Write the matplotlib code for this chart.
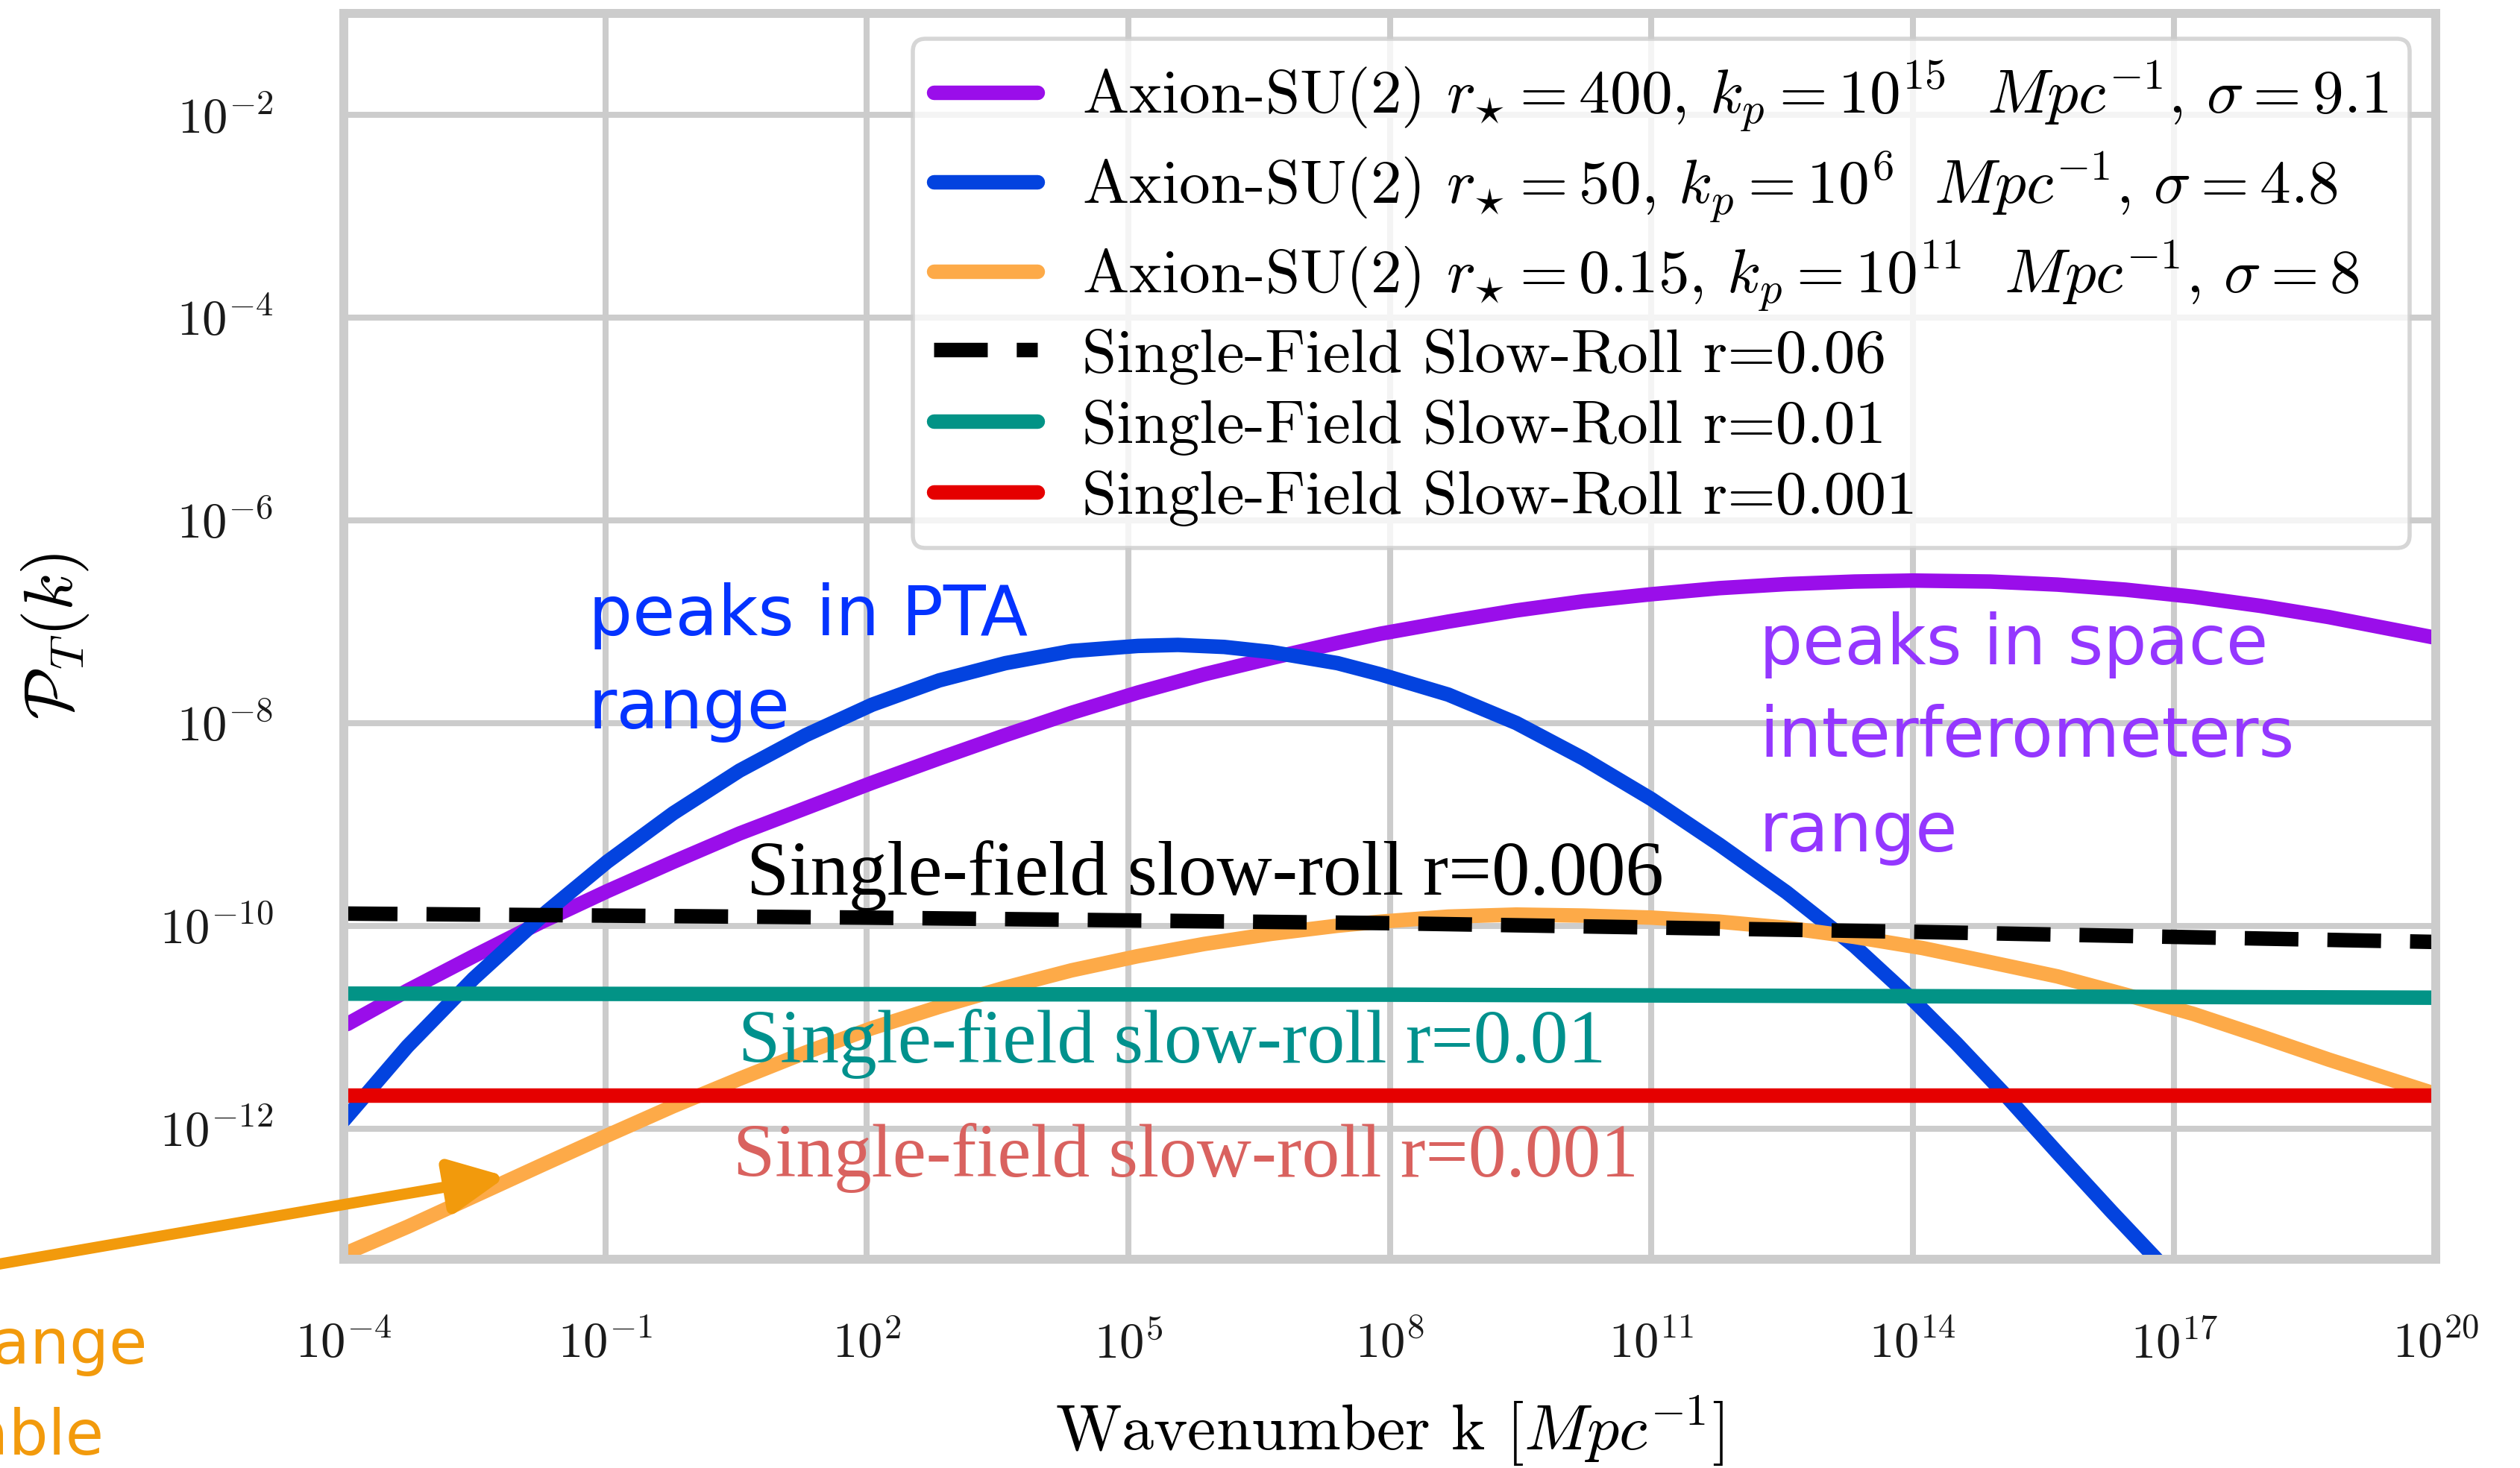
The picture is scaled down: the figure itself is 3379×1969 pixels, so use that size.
import numpy as np
import matplotlib
matplotlib.use("Agg")
import matplotlib.pyplot as plt
from matplotlib.patches import FancyArrowPatch, ArrowStyle
from matplotlib.ticker import FixedLocator, FuncFormatter, NullLocator

plt.rcParams['mathtext.fontset'] = 'cm'
plt.rcParams['font.family'] = ['cmr10', 'DejaVu Serif']
plt.rcParams['axes.unicode_minus'] = False
plt.rcParams['axes.formatter.use_mathtext'] = True
plt.rcParams['xtick.labelsize'] = 24
plt.rcParams['ytick.labelsize'] = 24
plt.rcParams['xtick.major.pad'] = 30
plt.rcParams['ytick.major.pad'] = 34
plt.rcParams['xtick.major.size'] = 0
plt.rcParams['ytick.major.size'] = 0

# values, as log10 k [Mpc^-1] and log10 P_T(k)
violet_logk = [-3.96, -3.27, -2.51, -1.75, -0.98, -0.22, 0.54, 1.30, 2.06, 2.83, 3.59,
               4.35, 5.11, 5.87, 6.64, 7.40, 7.89, 8.67, 9.45, 10.22, 11.0, 11.78,
               12.55, 13.33, 14.0, 14.89, 15.66, 16.44, 17.22, 17.99, 18.77, 20.0]
violet_logP = [-10.97, -10.64, -10.30, -9.97, -9.66, -9.37, -9.09, -8.84, -8.59, -8.35, -8.12,
               -7.90, -7.70, -7.52, -7.36, -7.21, -7.12, -7.00, -6.89, -6.80, -6.73, -6.67,
               -6.63, -6.605, -6.595, -6.605, -6.635, -6.685, -6.755, -6.845, -6.955, -7.16]

blue_logk = [-4.0, -3.27, -2.51, -1.67, -0.98, -0.22, 0.54, 1.30, 2.06, 2.83, 3.59,
             4.35, 5.11, 5.57, 6.1, 6.64, 7.40, 7.89, 8.67, 9.45, 10.22, 11.0, 11.78,
             12.55, 13.33, 14.0, 14.5, 15.04, 15.66, 16.28, 16.83, 17.2]
blue_logP = [-11.92, -11.19, -10.52, -9.86, -9.37, -8.89, -8.47, -8.12, -7.82, -7.58, -7.41,
             -7.29, -7.24, -7.23, -7.25, -7.30, -7.41, -7.52, -7.72, -8.00, -8.35, -8.75, -9.20,
             -9.67, -10.20, -10.73, -11.16, -11.65, -12.24, -12.82, -13.32, -13.64]

orange_logk = [-4.0, -3.27, -2.51, -1.75, -0.98, -0.22, 0.54, 1.30, 2.06, 2.83, 3.59,
               4.35, 5.11, 5.87, 6.64, 7.40, 7.89, 8.67, 9.45, 10.22, 11.0, 11.78,
               12.55, 13.33, 14.11, 14.89, 15.66, 16.44, 17.22, 17.99, 18.77, 20.0]
orange_logP = [-13.24, -12.97, -12.67, -12.37, -12.07, -11.78, -11.51, -11.25, -11.01, -10.80, -10.61,
               -10.44, -10.30, -10.18, -10.08, -10.00, -9.96, -9.91, -9.89, -9.90, -9.92, -9.96,
               -10.02, -10.11, -10.22, -10.36, -10.50, -10.68, -10.87, -11.09, -11.32, -11.66]

sf006_logk = [-4.0, 2.0, 8.0, 14.0, 20.0]
sf006_logP = [-9.88, -9.92, -9.975, -10.06, -10.16]
sf001_logk = [-4.0, 8.0, 20.0]
sf001_logP = [-10.67, -10.68, -10.71]
sf0001_logk = [-4.0, 20.0]
sf0001_logP = [-11.67, -11.67]

labels = [
    r'Axion-SU(2) $r_{\star}=400$, $k_p=10^{15}\ \ Mpc^{-1}$, $\sigma=9.1$',
    r'Axion-SU(2) $r_{\star}=50$, $k_p=10^{6}\ \ Mpc^{-1}$, $\sigma=4.8$',
    r'Axion-SU(2) $r_{\star}=0.15$, $k_p=10^{11}\ \ Mpc^{-1}$, $\sigma=8$',
    'Single-Field Slow-Roll r=0.06',
    'Single-Field Slow-Roll r=0.01',
    'Single-Field Slow-Roll r=0.001',
]

fig = plt.figure(figsize=(16.9, 9.845), dpi=200)
ax = fig.add_axes([0.1364, 0.1422, 0.8299, 0.8487])

lw = 7
ax.plot(10**np.array(violet_logk), 10**np.array(violet_logP), color='#9a0eea', lw=lw,
        solid_capstyle='round', solid_joinstyle='round', label=labels[0])
ax.plot(10**np.array(blue_logk), 10**np.array(blue_logP), color='#0343df', lw=lw,
        solid_capstyle='round', solid_joinstyle='round', label=labels[1])
ax.plot(10**np.array(orange_logk), 10**np.array(orange_logP), color='#fdaa48', lw=lw,
        solid_capstyle='round', solid_joinstyle='round', label=labels[2])
ax.plot(10**np.array(sf006_logk), 10**np.array(sf006_logP), color='black', lw=lw,
        ls='--', dashes=(3.7, 2.0), label=labels[3])
ax.plot(10**np.array(sf001_logk), 10**np.array(sf001_logP), color='#029386', lw=lw,
        solid_capstyle='round', label=labels[4])
ax.plot(10**np.array(sf0001_logk), 10**np.array(sf0001_logP), color='#e50000', lw=lw,
        solid_capstyle='round', label=labels[5])

ax.set_xscale('log')
ax.set_yscale('log')
ax.set_xlim(1e-4, 1e20)
ax.set_ylim(10**-13.29, 1e-1)

ax.xaxis.set_major_locator(FixedLocator([10.0**e for e in range(-4, 21, 3)]))
ax.yaxis.set_major_locator(FixedLocator([10.0**e for e in range(-12, -1, 2)]))
ax.xaxis.set_minor_locator(NullLocator())
ax.yaxis.set_minor_locator(NullLocator())
fmt = FuncFormatter(lambda v, pos: r'$10^{%d}$' % round(np.log10(v)))
ax.xaxis.set_major_formatter(fmt)
ax.yaxis.set_major_formatter(fmt)
ax.tick_params(colors='#1a1a1a')

ax.grid(True, color='#cccccc', lw=2.9)
ax.set_axisbelow(True)
for s in ax.spines.values():
    s.set_color('#cccccc')
    s.set_linewidth(4.3)

ax.set_xlabel(r'Wavenumber k $[Mpc^{-1}]$', fontsize=31)
ax.set_ylabel(r'$\mathcal{P}_T(k)$', fontsize=33)
ax.xaxis.set_label_coords(0.5, -0.108)
ax.yaxis.set_label_coords(-0.121, 0.5)

leg = ax.legend(loc='upper right', bbox_to_anchor=(0.9875, 0.9796), borderaxespad=0,
                fontsize=30, handlelength=1.67, handletextpad=0.72, borderpad=0.34,
                labelspacing=0.24, framealpha=0.8, edgecolor='#cccccc', fancybox=True)
leg.get_frame().set_linewidth(2.0)

# slide annotations on top of the plot
sans = 'DejaVu Sans'
serif = 'Liberation Serif'
fig.text(0.2334, 0.5673, 'peaks in PTA', color='#0433ff', fontsize=33.5, family=sans)
fig.text(0.2334, 0.5038, 'range', color='#0433ff', fontsize=33.5, family=sans)
fig.text(0.6979, 0.5475, 'peaks in space', color='#9437ff', fontsize=33, family=sans)
fig.text(0.6979, 0.4845, 'interferometers', color='#9437ff', fontsize=33, family=sans)
fig.text(0.6979, 0.4200, 'range', color='#9437ff', fontsize=33, family=sans)

fig.text(0.2962, 0.3905, 'Single-field slow-roll r=0.006', color='black', fontsize=37, family=serif)
fig.text(0.2929, 0.2763, 'Single-field slow-roll r=0.01', color='#00918d', fontsize=36.5, family=serif)
fig.text(0.2908, 0.1986, 'Single-field slow-roll r=0.001', color='#d9625f', fontsize=36.5, family=serif)

fig.text(0.0583, 0.0711, 'CMB range', color='#f29a0c', fontsize=30, family=sans, ha='right')
fig.text(0.0414, 0.0091, 'observable', color='#f29a0c', fontsize=30, family=sans, ha='right')

arrow = FancyArrowPatch((-0.0888, 0.1127), (0.2009, 0.1986), transform=fig.transFigure,
                        arrowstyle=ArrowStyle('-|>', head_length=0.62, head_width=0.3),
                        mutation_scale=36, lw=5.4, color='#f29a0c', shrinkA=0, shrinkB=0)
fig.add_artist(arrow)

fig.savefig('out.png', dpi=200)
